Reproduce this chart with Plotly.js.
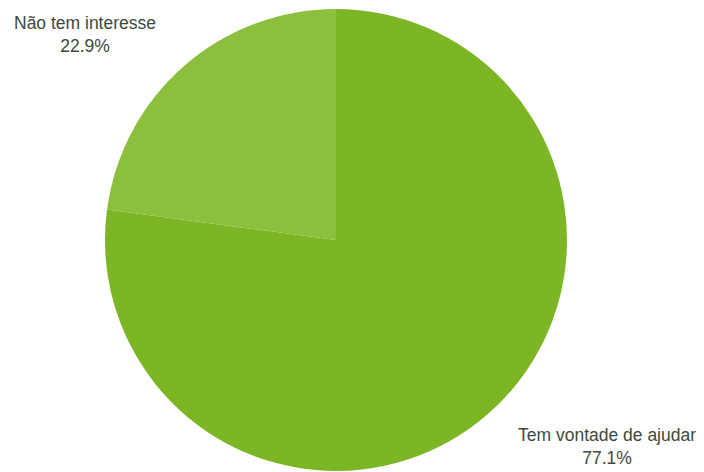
<!DOCTYPE html>
<html><head><meta charset="utf-8">
<script src="https://cdn.plot.ly/plotly-3.0.1.min.js"></script>
<style>html,body{margin:0;padding:0;background:#fff}#c{width:704px;height:472px}</style>
</head><body><div id="c"></div>
<script>
const labels = ["Tem vontade de ajudar", "Não tem interesse"];
const values = [77.1, 22.9];
const colors = ["#7db625", "#8cbf3e"];
const labelPos = [{x: 607, y: 446}, {x: 85, y: 34}];

const W = 704, H = 472;
const cx = 336, cy = 240, r = 231;

const annotations = labels.map((l, i) => ({
  x: labelPos[i].x / W, y: 1 - labelPos[i].y / H, xref: 'paper', yref: 'paper',
  text: l + '<br>' + values[i].toFixed(1) + '%', showarrow: false,
  xanchor: 'center', yanchor: 'middle', align: 'center',
  font: {family: '"Liberation Sans", Arial, sans-serif', size: 17.5, color: '#3c4a3c'}
}));

Plotly.newPlot('c', [{
  type: 'pie', labels: labels, values: values, sort: false,
  direction: 'clockwise', rotation: 0,
  marker: {colors: colors, line: {width: 0}},
  textinfo: 'none', hoverinfo: 'label+percent',
  domain: {x: [(cx - r) / W, (cx + r) / W], y: [(H - cy - r) / H, (H - cy + r) / H]}
}], {
  width: W, height: H, margin: {l: 0, r: 0, t: 0, b: 0},
  showlegend: false, paper_bgcolor: '#fff', annotations: annotations
}, {displayModeBar: false});
</script></body></html>
